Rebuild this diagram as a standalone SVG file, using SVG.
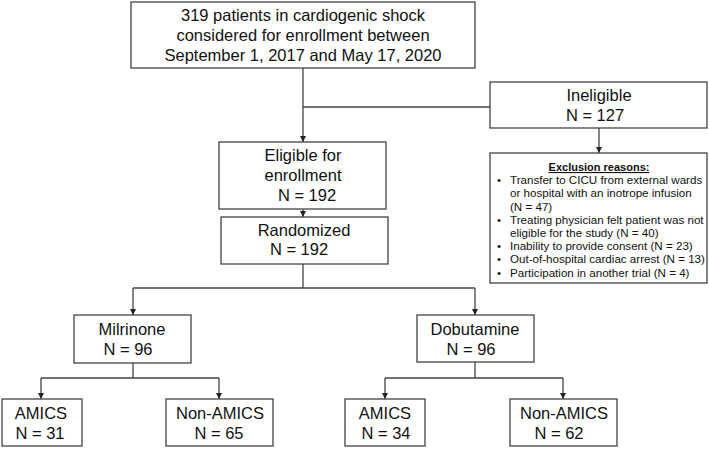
<svg xmlns="http://www.w3.org/2000/svg" width="709" height="449" viewBox="0 0 709 449">
<style>
.box{fill:#fff;stroke:#444;stroke-width:1.3}
.t{font-family:"Liberation Sans",Arial,Helvetica,sans-serif;font-size:16.5px;fill:#111;text-anchor:middle}
.s{font-family:"Liberation Sans",Arial,Helvetica,sans-serif;font-size:11.6px;fill:#111}
.h{font-family:"Liberation Sans",Arial,Helvetica,sans-serif;font-size:11px;font-weight:bold;fill:#111;text-anchor:middle;text-decoration:underline}
.c{fill:none;stroke:#444;stroke-width:1.3}
</style>
<defs>
<marker id="ah" viewBox="0 0 10 10" refX="10" refY="5" markerWidth="6" markerHeight="6" markerUnits="userSpaceOnUse" orient="auto">
<path d="M0,0 L10,5 L0,10 Z" fill="#222"/>
</marker>
</defs>
<rect width="709" height="449" fill="#fff"/>
<g id="connectors">
<path class="c" d="M303,68 V142" marker-end="url(#ah)"/>
<path class="c" d="M303,107 H490"/>
<path class="c" d="M599,128 V153" marker-end="url(#ah)"/>
<path class="c" d="M303,209 V217" marker-end="url(#ah)"/>
<path class="c" d="M303,264 V288 M133,288 H475"/>
<path class="c" d="M133,288 V315" marker-end="url(#ah)"/>
<path class="c" d="M475,288 V315" marker-end="url(#ah)"/>
<path class="c" d="M133,363 V378 M41,378 H219"/>
<path class="c" d="M41,378 V399" marker-end="url(#ah)"/>
<path class="c" d="M219,378 V399" marker-end="url(#ah)"/>
<path class="c" d="M475,362 V378 M385,378 H563"/>
<path class="c" d="M385,378 V399" marker-end="url(#ah)"/>
<path class="c" d="M563,378 V399" marker-end="url(#ah)"/>
</g>
<g id="screened">
<rect class="box" x="131" y="2" width="344" height="66"/>
<text class="t" x="303" y="21">319 patients in cardiogenic shock</text>
<text class="t" x="303" y="41">considered for enrollment between</text>
<text class="t" x="303" y="61">September 1, 2017 and May 17, 2020</text>
</g>
<g id="ineligible">
<rect class="box" x="490" y="82" width="217" height="46"/>
<text class="t" x="599" y="101">Ineligible</text>
<text class="t" x="595" y="121">N = 127</text>
</g>
<g id="exclusion">
<rect class="box" x="490" y="153" width="217" height="130"/>
<text class="h" x="599" y="171">Exclusion reasons:</text>
<g class="s">
<text x="497" y="184.2">•</text><text x="510" y="184.2">Transfer to CICU from external wards</text>
<text x="510" y="197.4">or hospital with an inotrope infusion</text>
<text x="510" y="210.6">(N = 47)</text>
<text x="497" y="223.8">•</text><text x="510" y="223.8">Treating physician felt patient was not</text>
<text x="510" y="237">eligible for the study (N = 40)</text>
<text x="497" y="250.2">•</text><text x="510" y="250.2">Inability to provide consent (N = 23)</text>
<text x="497" y="263.4">•</text><text x="510" y="263.4">Out-of-hospital cardiac arrest (N = 13)</text>
<text x="497" y="276.6">•</text><text x="510" y="276.6">Participation in another trial (N = 4)</text>
</g>
</g>
<g id="eligible">
<rect class="box" x="219" y="142" width="167" height="67"/>
<text class="t" x="303" y="161">Eligible for</text>
<text class="t" x="303" y="181">enrollment</text>
<text class="t" x="307" y="201">N = 192</text>
</g>
<g id="randomized">
<rect class="box" x="221" y="217" width="167" height="47"/>
<text class="t" x="304" y="236">Randomized</text>
<text class="t" x="299" y="255">N = 192</text>
</g>
<g id="milrinone">
<rect class="box" x="74" y="315" width="117" height="48"/>
<text class="t" x="132" y="335">Milrinone</text>
<text class="t" x="128" y="355">N = 96</text>
</g>
<g id="dobutamine">
<rect class="box" x="417" y="315" width="117" height="47"/>
<text class="t" x="475" y="335">Dobutamine</text>
<text class="t" x="471" y="355">N = 96</text>
</g>
<g id="mil-amics">
<rect class="box" x="2" y="399" width="80" height="47"/>
<text class="t" x="41" y="419">AMICS</text>
<text class="t" x="40" y="439">N = 31</text>
</g>
<g id="mil-nonamics">
<rect class="box" x="166" y="399" width="107" height="47"/>
<text class="t" x="220" y="419">Non-AMICS</text>
<text class="t" x="219" y="439">N = 65</text>
</g>
<g id="dob-amics">
<rect class="box" x="345" y="399" width="80" height="47"/>
<text class="t" x="385" y="419">AMICS</text>
<text class="t" x="386" y="439">N = 34</text>
</g>
<g id="dob-nonamics">
<rect class="box" x="510" y="399" width="107" height="47"/>
<text class="t" x="564" y="419">Non-AMICS</text>
<text class="t" x="559" y="439">N = 62</text>
</g>
</svg>
